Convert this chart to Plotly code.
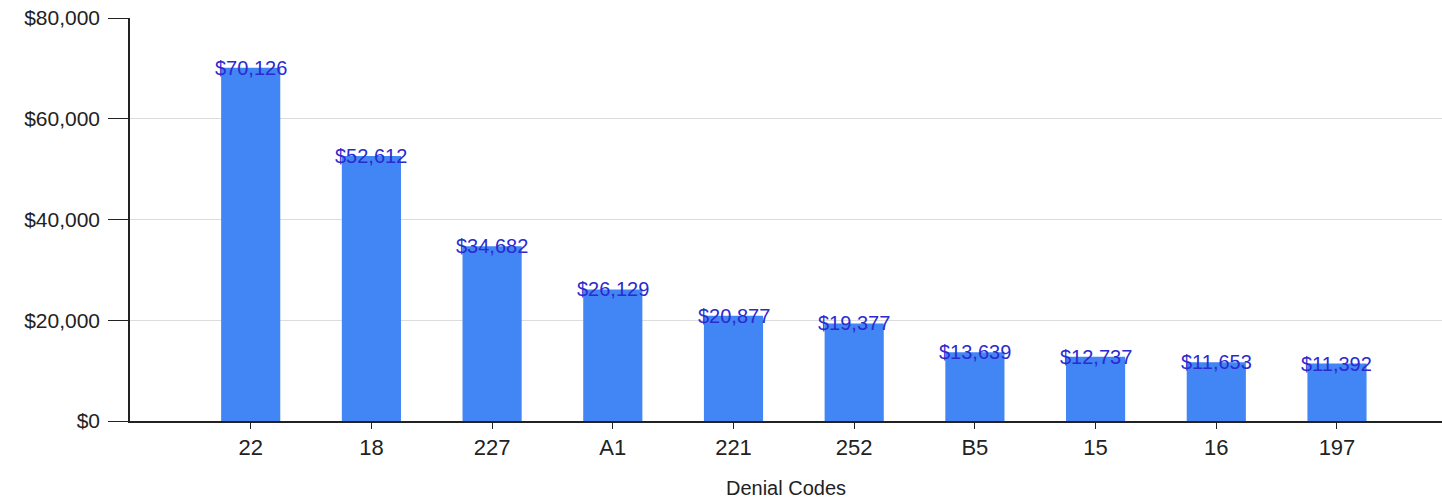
import plotly.graph_objects as go

codes = ["22", "18", "227", "A1", "221", "252", "B5", "15", "16", "197"]
amounts = [70126, 52612, 34682, 26129, 20877, 19377, 13639, 12737, 11653, 11392]
labels = ["${:,}".format(v) for v in amounts]
y_ticks = [0, 20000, 40000, 60000, 80000]
y_tick_text = ["$0", "$20,000", "$40,000", "$60,000", "$80,000"]

FONT = "Liberation Sans, Arial, sans-serif"

fig = go.Figure()
fig.add_trace(go.Bar(
    x=codes, y=amounts, width=0.49,
    marker=dict(color="#4285f4", line=dict(width=0)),
    hoverinfo="skip",
))

# category axis positions are indices of the categories
for i, (v, t) in enumerate(zip(amounts, labels)):
    fig.add_annotation(
        x=i, y=v, text=t, showarrow=False,
        xanchor="center", yanchor="middle", yshift=0,
        font=dict(family=FONT, size=20, color="#2b2bd0"),
    )

fig.update_layout(
    width=1442, height=499,
    margin=dict(l=130, r=0, t=18, b=78),
    paper_bgcolor="white", plot_bgcolor="white",
    showlegend=False,
    font=dict(family=FONT, color="#222"),
)
fig.update_xaxes(
    type="category", range=[-1, 9.87],
    showline=True, linecolor="#222", linewidth=1.5,
    ticks="outside", ticklen=6, tickcolor="#222",
    tickfont=dict(size=22, color="#222"),
    title=dict(text="Denial Codes", font=dict(size=20, color="#222"), standoff=22),
    showgrid=False, zeroline=False,
)
fig.update_yaxes(
    range=[0, 80000], tickvals=y_ticks, ticktext=y_tick_text,
    showline=True, linecolor="#222", linewidth=1.5,
    ticks="outside", ticklen=20, tickcolor="#222",
    ticklabelstandoff=4,
    tickfont=dict(size=21, color="#222"),
    showgrid=True, gridcolor="#dcdcdc", gridwidth=1,
    zeroline=False,
)

fig.write_html("out.html")
